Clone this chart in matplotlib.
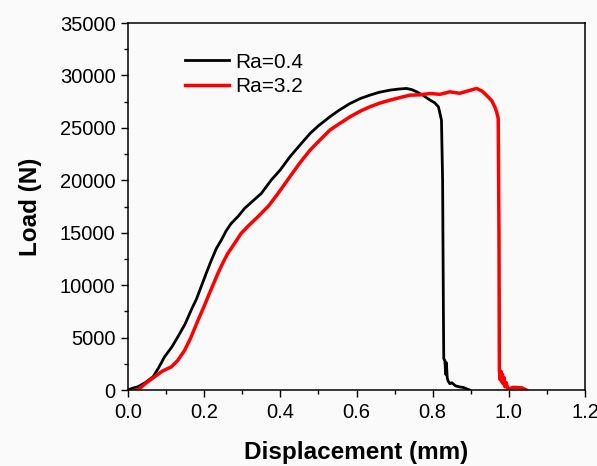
import matplotlib
matplotlib.use('Agg')
import matplotlib.pyplot as plt
from matplotlib.ticker import MultipleLocator

plt.rcParams['font.family'] = ['Liberation Sans', 'DejaVu Sans']

# Ra=0.4 curve
disp_04 = [0.0, 0.01, 0.026, 0.045, 0.066, 0.08, 0.096, 0.115, 0.131, 0.15,
           0.166, 0.18, 0.192, 0.205, 0.219, 0.232, 0.245, 0.258, 0.271, 0.29,
           0.306, 0.33, 0.35, 0.376, 0.4, 0.425, 0.45, 0.478, 0.5, 0.53,
           0.555, 0.583, 0.61, 0.635, 0.66, 0.688, 0.71, 0.731, 0.745, 0.758,
           0.775, 0.793, 0.805, 0.815, 0.823, 0.826, 0.828, 0.829, 0.832, 0.834,
           0.836, 0.838, 0.84, 0.845, 0.85, 0.86, 0.87, 0.88, 0.897]
load_04 = [0, 150, 310, 700, 1270, 2100, 3170, 4100, 5080, 6300,
           7630, 8700, 9850, 11100, 12390, 13500, 14300, 15200, 15890, 16600,
           17320, 18100, 18750, 20020, 21000, 22240, 23300, 24470, 25200, 26060,
           26700, 27330, 27800, 28120, 28400, 28600, 28700, 28760, 28650, 28440,
           28100, 27650, 27400, 27010, 25740, 20000, 8000, 3000, 2800, 1500,
           2600, 1200, 900, 600, 700, 400, 300, 250, 0]

# Ra=3.2 curve
disp_32 = [0.02, 0.026, 0.045, 0.07, 0.09, 0.114, 0.13, 0.149, 0.165, 0.184,
           0.2, 0.21, 0.236, 0.25, 0.262, 0.28, 0.297, 0.32, 0.341, 0.37,
           0.394, 0.425, 0.45, 0.478, 0.5, 0.53, 0.555, 0.583, 0.61, 0.635,
           0.66, 0.688, 0.715, 0.74, 0.766, 0.793, 0.819, 0.845, 0.871, 0.895,
           0.915, 0.93, 0.941, 0.955, 0.963, 0.968, 0.972, 0.974, 0.975, 0.977,
           0.979, 0.981, 0.983, 0.985, 0.987, 0.99, 0.993, 0.997, 1.0, 1.01,
           1.02, 1.035, 1.046]
load_32 = [0, 0, 600, 1270, 1800, 2220, 2800, 3810, 5000, 6670,
           8000, 8890, 11120, 12200, 13030, 14000, 14940, 15800, 16520, 17600,
           18750, 20340, 21600, 22880, 23700, 24790, 25400, 26060, 26600, 27010,
           27350, 27650, 27900, 28120, 28150, 28280, 28200, 28440, 28300, 28550,
           28760, 28500, 28120, 27600, 27010, 26500, 25900, 15000, 1900, 1000,
           1800, 800, 1500, 600, 1200, 300, 700, 150, 100, 250,
           250, 200, 0]

labels = ['Ra=0.4', 'Ra=3.2']
colors = ['black', '#ff0000']

fig = plt.figure(figsize=(5.97, 4.66), dpi=100, facecolor='#fafafa')
ax = fig.add_axes([0.2144, 0.163, 0.7656, 0.7876])
ax.set_facecolor('#fafafa')

ax.plot(disp_04, load_04, color=colors[0], lw=2.0, label=labels[0])
ax.plot(disp_32, load_32, color=colors[1], lw=2.5, label=labels[1])

ax.set_xlim(0, 1.2)
ax.set_ylim(0, 35000)
ax.xaxis.set_major_locator(MultipleLocator(0.2))
ax.xaxis.set_minor_locator(MultipleLocator(0.1))
ax.yaxis.set_major_locator(MultipleLocator(5000))
ax.yaxis.set_minor_locator(MultipleLocator(2500))
ax.set_xticklabels([f'{v:.1f}' for v in ax.get_xticks()])
ax.tick_params(which='major', direction='out', length=5, width=1, labelsize=14.5, pad=4)
ax.tick_params(which='minor', direction='out', length=3, width=1)
for s in ax.spines.values():
    s.set_linewidth(1.1)

ax.set_xlabel('Displacement (mm)', fontsize=17.5, fontweight='bold', labelpad=14)
ax.set_ylabel('Load (N)', fontsize=17.5, fontweight='bold', labelpad=13)

ax.legend(loc='upper left', bbox_to_anchor=(0.083, 0.97), frameon=False,
          fontsize=15, handlelength=2.15, handletextpad=0.3, labelspacing=0.25)

fig.savefig('out.png', dpi=100, facecolor=fig.get_facecolor())
